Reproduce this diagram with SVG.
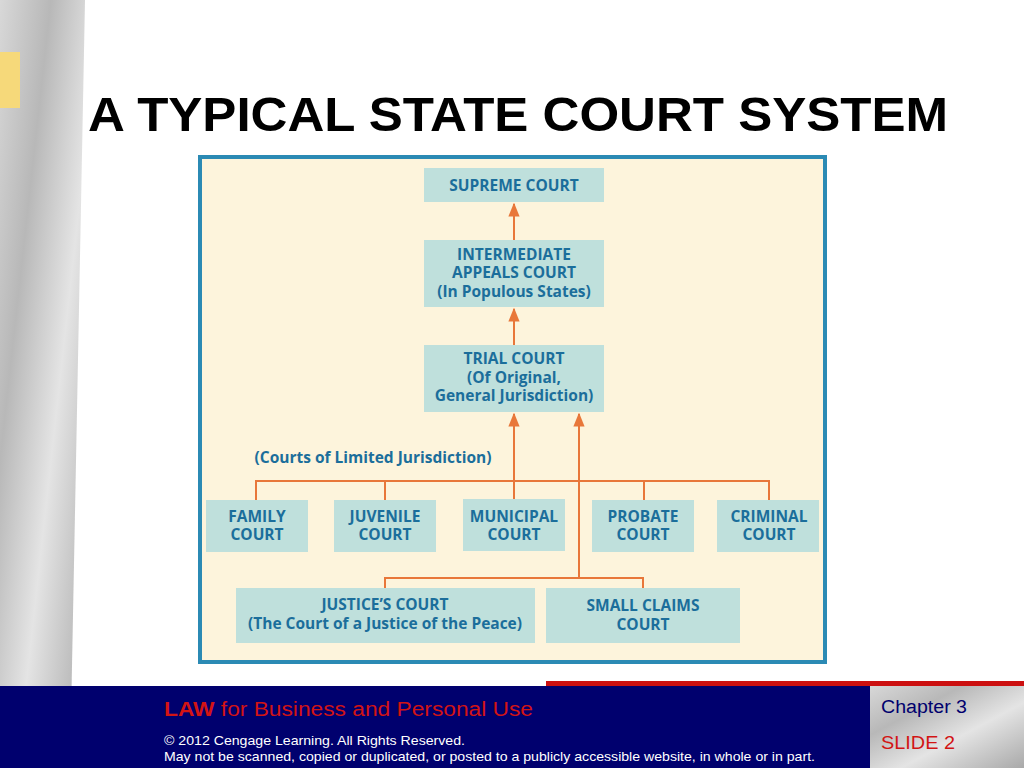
<svg xmlns="http://www.w3.org/2000/svg" width="1024" height="768" viewBox="0 0 1024 768">
<defs>
<linearGradient id="marble" x1="0" y1="0" x2="1" y2="1">
<stop offset="0" stop-color="#d8d8d8"/><stop offset="0.3" stop-color="#b8b8b8"/><stop offset="0.6" stop-color="#e4e4e4"/><stop offset="1" stop-color="#a9a9a9"/>
</linearGradient>
<marker id="ar" viewBox="0 0 10 10" refX="9" refY="5" markerWidth="7" markerHeight="7" orient="auto"><path d="M0,1 L10,5 L0,9 z" fill="#e8773a"/></marker>
<style>
.box{fill:#bfe0dc}
.t{font-family:"Open Sans","Liberation Sans",sans-serif;font-weight:bold;font-size:15.5px;fill:#1b6e9b;text-anchor:middle}
.c{stroke:#e8773a;stroke-width:2;fill:none}
.f{font-family:"Liberation Sans",Arial,sans-serif}
</style>
</defs>
<rect width="1024" height="768" fill="#ffffff"/>
<polygon points="0,0 85,0 70,768 0,768" fill="url(#marble)"/>
<rect x="0" y="52" width="20" height="56" fill="#f6d97a"/>
<text x="88" y="131" class="f" font-size="48" font-weight="bold" fill="#000" textLength="860" lengthAdjust="spacingAndGlyphs">A TYPICAL STATE COURT SYSTEM</text>
<rect x="200" y="157" width="625" height="505" fill="#fdf4dc" stroke="#2b8ab4" stroke-width="4"/>
<g id="connectors">
<line class="c" x1="514" y1="240" x2="514" y2="204" marker-end="url(#ar)"/>
<line class="c" x1="514" y1="345" x2="514" y2="309" marker-end="url(#ar)"/>
<line class="c" x1="514" y1="499" x2="514" y2="414" marker-end="url(#ar)"/>
<line class="c" x1="579" y1="578" x2="579" y2="414" marker-end="url(#ar)"/>
<polyline class="c" points="256,500 256,481 769,481 769,500"/>
<line class="c" x1="385" y1="481" x2="385" y2="500"/>
<line class="c" x1="644" y1="481" x2="644" y2="500"/>
<polyline class="c" points="385,588 385,578 643,578 643,588"/>
</g>
<g id="supreme"><rect class="box" x="424" y="168" width="180" height="34"/><text class="t" x="514" y="191">SUPREME COURT</text></g>
<g id="intermediate"><rect class="box" x="424" y="240" width="180" height="67"/><text class="t" x="514" y="260">INTERMEDIATE</text><text class="t" x="514" y="278">APPEALS COURT</text><text class="t" x="514" y="297">(In Populous States)</text></g>
<g id="trial"><rect class="box" x="424" y="345" width="180" height="67"/><text class="t" x="514" y="364">TRIAL COURT</text><text class="t" x="514" y="383">(Of Original,</text><text class="t" x="514" y="401">General Jurisdiction)</text></g>
<text class="t" x="373" y="463">(Courts of Limited Jurisdiction)</text>
<g id="family"><rect class="box" x="206" y="500" width="102" height="52"/><text class="t" x="257" y="522">FAMILY</text><text class="t" x="257" y="540">COURT</text></g>
<g id="juvenile"><rect class="box" x="334" y="500" width="102" height="52"/><text class="t" x="385" y="522">JUVENILE</text><text class="t" x="385" y="540">COURT</text></g>
<g id="municipal"><rect class="box" x="463" y="499" width="102" height="52"/><text class="t" x="514" y="522">MUNICIPAL</text><text class="t" x="514" y="540">COURT</text></g>
<g id="probate"><rect class="box" x="592" y="500" width="102" height="52"/><text class="t" x="643" y="522">PROBATE</text><text class="t" x="643" y="540">COURT</text></g>
<g id="criminal"><rect class="box" x="717" y="500" width="102" height="52"/><text class="t" x="769" y="522">CRIMINAL</text><text class="t" x="769" y="540">COURT</text></g>
<g id="justice"><rect class="box" x="236" y="588" width="299" height="55"/><text class="t" x="385" y="610">JUSTICE’S COURT</text><text class="t" x="385" y="629">(The Court of a Justice of the Peace)</text></g>
<g id="smallclaims"><rect class="box" x="546" y="588" width="194" height="55"/><text class="t" x="643" y="611">SMALL CLAIMS</text><text class="t" x="643" y="630">COURT</text></g>
<rect x="546" y="681" width="478" height="5" fill="#cc1010"/>
<rect x="0" y="686" width="870" height="82" fill="#00006e"/>
<rect x="870" y="686" width="154" height="82" fill="url(#marble)"/>
<text x="164" y="716" class="f" font-size="20" fill="#d21414" textLength="369" lengthAdjust="spacingAndGlyphs"><tspan font-weight="bold">LAW</tspan> for Business and Personal Use</text>
<text x="164" y="745" class="f" font-size="13" fill="#fff" textLength="301" lengthAdjust="spacingAndGlyphs">© 2012 Cengage Learning. All Rights Reserved.</text>
<text x="164" y="761" class="f" font-size="13" fill="#fff" textLength="651" lengthAdjust="spacingAndGlyphs">May not be scanned, copied or duplicated, or posted to a publicly accessible website, in whole or in part.</text>
<text x="881" y="713" class="f" font-size="18" fill="#00006e" textLength="86" lengthAdjust="spacingAndGlyphs">Chapter 3</text>
<text x="881" y="749" class="f" font-size="18" fill="#d21414" textLength="74" lengthAdjust="spacingAndGlyphs">SLIDE 2</text>
</svg>
